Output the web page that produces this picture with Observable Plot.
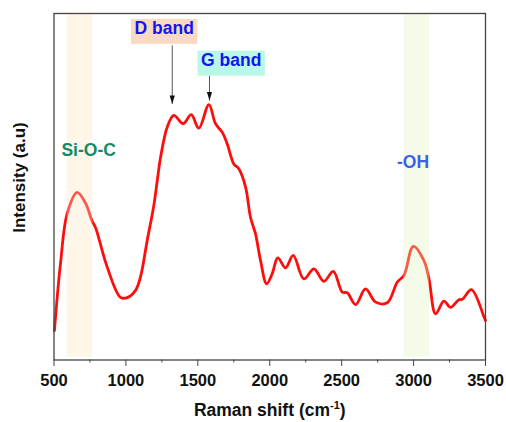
<!DOCTYPE html>
<html>
<head>
<meta charset="utf-8">
<script src="https://cdn.jsdelivr.net/npm/d3@7"></script>
<script src="https://cdn.jsdelivr.net/npm/@observablehq/plot@0.6"></script>
<style>
  html, body { margin: 0; padding: 0; background: #fff; }
</style>
</head>
<body>
<div id="chart"></div>
<script>
// Raman spectrum: shift (cm-1) and relative intensity (a.u.)
const shift = [503, 545, 592, 661, 720, 765, 788, 870, 962, 1009, 1067, 1101, 1148, 1194, 1218, 1241,
  1287, 1333, 1398, 1454, 1507, 1577, 1623, 1670, 1704, 1750, 1785, 1832, 1866, 1901, 1936, 1978,
  2017, 2056, 2110, 2163, 2237, 2307, 2376, 2442, 2504, 2539, 2597, 2666, 2736, 2817, 2887, 2933,
  2998, 3072, 3107, 3153, 3211, 3257, 3315, 3339, 3402, 3490, 3500];
const intensity = [8.5, 27.8, 42.3, 48.4, 45.2, 40.1, 38.3, 26.8, 18.1, 18.0, 20.1, 23.9, 34.5, 44.6, 51.8, 58.5,
  67.2, 70.6, 68.2, 70.8, 66.9, 73.7, 68.2, 65.7, 62.4, 56.6, 55.2, 49.9, 41.2, 36.4, 28.7, 22.0,
  24.9, 29.5, 26.6, 30.2, 23.4, 26.3, 22.7, 25.6, 19.6, 19.4, 16.0, 20.5, 16.7, 16.5, 22.5, 24.4,
  32.8, 28.7, 23.4, 13.3, 17.0, 15.2, 17.4, 17.5, 20.3, 12.4, 11.4];

// Highlighted regions
const bandNames = ["Si-O-C", "-OH"];
const bandFrom = [592, 2932];
const bandTo = [770, 3111];

// Boxed band labels with arrows
const peakNames = ["D band", "G band"];
const peakLabelX = [1266, 1732];
const peakLabelY = [95.6, 86.4];
const peakX = [1322, 1581];
const arrowFrom = [90.8, 82.1];
const arrowTip = [73.9, 74.9];

// Region labels
const regionLabelX = [741, 2996];
const regionLabelY = [60.5, 57.1];

const xTicks = [500, 1000, 1500, 2000, 2500, 3000, 3500];
const xMinorTicks = [750, 1250, 1750, 2250, 2750, 3250];

const spectrum = shift.map((s, i) => ({shift: s, intensity: intensity[i]}));
const bands = bandNames.map((n, i) => ({name: n, from: bandFrom[i], to: bandTo[i]}));
const peaks = peakNames.map((n, i) => ({name: n, lx: peakLabelX[i], ly: peakLabelY[i], x: peakX[i], y1: arrowFrom[i], y2: arrowTip[i]}));
const regions = bandNames.map((n, i) => ({name: n, x: regionLabelX[i], y: regionLabelY[i]}));

const bandFill = ["rgb(249,228,191)", "rgb(223,246,191)"];
const regionColor = ["#158a68", "#3f5fe6"];
const boxFill = ["#fad9c1", "#b9f8e6"];

// Narrow filled arrowhead with its tip at the anchor point
const arrowHead = {
  draw(context) {
    context.moveTo(-2.6, -8.5);
    context.lineTo(2.6, -8.5);
    context.lineTo(0, 0);
    context.closePath();
  }
};

const chart = Plot.plot({
  width: 506,
  height: 422,
  marginLeft: 53.5,
  marginRight: 21,
  marginTop: 13,
  marginBottom: 62.5,
  style: {fontFamily: "'Liberation Sans', Arial, sans-serif", background: "#fff"},
  x: {domain: [500, 3500]},
  y: {domain: [0, 100], axis: null},
  marks: [
    Plot.line(spectrum, {x: "shift", y: "intensity", stroke: "#ff0d0d", strokeWidth: 2.8, curve: "catmull-rom"}),
    Plot.rect(bands, {x1: "from", x2: "to", y1: 0.8, y2: 100, fill: (d, i) => bandFill[i], fillOpacity: 0.35}),
    Plot.text(regions, {x: "x", y: "y", text: "name", fill: (d, i) => regionColor[i], fontSize: 17.5, fontWeight: "bold", lineAnchor: "middle"}),
    Plot.link(peaks, {x1: "x", x2: "x", y1: "y1", y2: "y2", stroke: "#555", strokeWidth: 1}),
    Plot.dot(peaks, {x: "x", y: "y2", symbol: arrowHead, fill: "#111", stroke: "none"}),
    Plot.text(peaks, {x: "lx", y: "ly", text: "name", fill: "#1414ee", fontSize: 17.5, fontWeight: "bold", lineAnchor: "middle", className: "boxed"}),
    Plot.frame({stroke: "#444", strokeWidth: 1.3}),
    Plot.axisX({ticks: xMinorTicks, tickSize: 3, text: null, label: null, stroke: "#444"}),
    Plot.axisX({ticks: xTicks, tickSize: 6.5, tickPadding: 8, tickFormat: d3.format("d"), label: null,
      fontSize: 16.5, fontWeight: "bold", fill: "#111", stroke: "#444"}),
    Plot.text(["Raman shift (cm-1)"], {frameAnchor: "bottom", dy: 50, fontSize: 17.5, fontWeight: "bold", fill: "#111", lineAnchor: "middle", className: "xtitle"}),
    Plot.text(["Intensity (a.u)"], {frameAnchor: "left", rotate: -90, textAnchor: "middle", fontSize: 17, fontWeight: "bold", fill: "#111", lineAnchor: "middle", className: "ytitle"})
  ]
});

document.getElementById("chart").appendChild(chart);

// Superscript for the unit in the x-axis title
d3.select(chart).selectAll("g.xtitle text").each(function () {
  const t = d3.select(this);
  t.text(null);
  t.append("tspan").text("Raman shift (cm");
  t.append("tspan").attr("font-size", "11").attr("dy", "-7").text("-1");
  t.append("tspan").attr("dy", "7").text(")");
});

// Vertical title sits left of the frame, centred on the plot area
d3.select(chart).selectAll("g.ytitle").attr("transform", null).attr("text-anchor", "middle");
d3.select(chart).selectAll("g.ytitle text")
  .attr("x", null).attr("y", null)
  .attr("text-anchor", "middle")
  .attr("transform", "translate(25,177.5) rotate(-90)");

// Coloured boxes behind the D and G band labels
d3.select(chart).selectAll("g.boxed text").each(function (d, i) {
  const b = this.getBBox();
  const ctm = this.getAttribute("transform");
  const rect = document.createElementNS("http://www.w3.org/2000/svg", "rect");
  rect.setAttribute("x", b.x - 3.5);
  rect.setAttribute("y", b.y + 0.5);
  rect.setAttribute("width", b.width + 7);
  rect.setAttribute("height", b.height + 5);
  rect.setAttribute("fill", boxFill[i]);
  if (ctm) rect.setAttribute("transform", ctm);
  this.parentNode.insertBefore(rect, this);
});
</script>
</body>
</html>
